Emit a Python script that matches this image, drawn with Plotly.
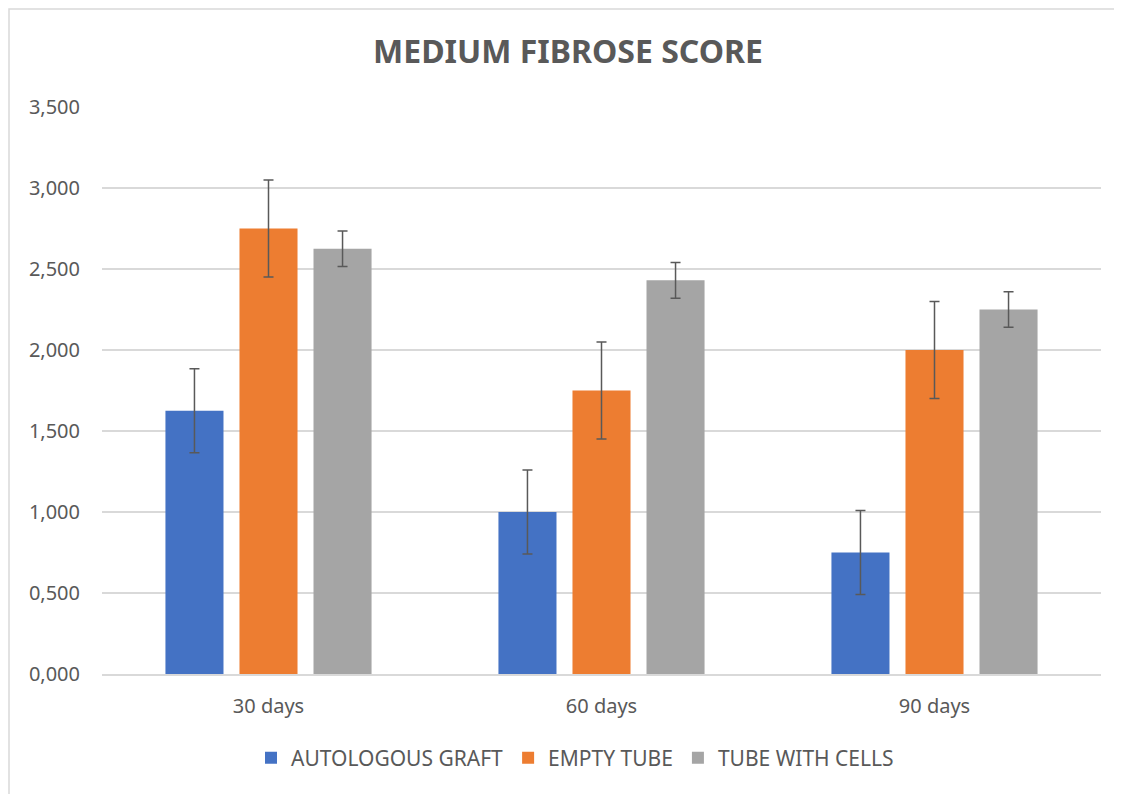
import plotly.graph_objects as go

categories = ["30 days", "60 days", "90 days"]
series_names = ["AUTOLOGOUS GRAFT", "EMPTY TUBE", "TUBE WITH CELLS"]
autologous = [1.625, 1.0, 0.75]
empty_tube = [2.75, 1.75, 2.0]
with_cells = [2.625, 2.43, 2.25]
autologous_err = [0.26, 0.26, 0.26]
empty_tube_err = [0.3, 0.3, 0.3]
with_cells_err = [0.11, 0.11, 0.11]
y_ticks = [0, 0.5, 1.0, 1.5, 2.0, 2.5, 3.0, 3.5]

colors = ["#4472C4", "#ED7D31", "#A5A5A5"]
values = [autologous, empty_tube, with_cells]
errors = [autologous_err, empty_tube_err, with_cells_err]

# page has an 8px body margin, so the figure is a bit smaller than the window
W, H = 1114, 786
L, R, T, B = 94, 21, 99, 120

fig = go.Figure()
for name, vals, errs, col in zip(series_names, values, errors, colors):
    fig.add_trace(go.Bar(
        x=categories, y=vals, name=name, marker_color=col,
        marker_line_width=0,
        error_y=dict(type="data", array=errs, visible=True,
                     color="#595959", thickness=1.5, width=5),
    ))

pw, ph = W - L - R, H - T - B
fig.add_shape(type="rect", xref="paper", yref="paper",
              x0=(1 - L) / pw, x1=(1109 - L) / pw,
              y0=(H - 800 - B) / ph, y1=(H - 1 - B) / ph,
              line=dict(color="#d9d9d9", width=1.5), fillcolor="rgba(0,0,0,0)",
              layer="below")

fig.update_layout(
    width=W, height=H,
    margin=dict(l=L, r=R, t=T, b=B),
    paper_bgcolor="white", plot_bgcolor="white",
    separators=",.",
    font=dict(family="Noto Sans", size=20, color="#595959"),
    title=dict(text="<b>MEDIUM FIBROSE SCORE</b>", x=560 / W, xanchor="center",
               y=1 - 44 / H, yanchor="middle",
               font=dict(size=32, color="#595959", family="Noto Sans")),
    barmode="group", bargap=0.333, bargroupgap=0.216,
    showlegend=True,
    legend=dict(orientation="h", x=(567 - L) / pw, xanchor="center",
                y=-(758 - 674) / ph, yanchor="middle",
                font=dict(size=21, color="#595959"),
                itemwidth=30, traceorder="normal"),
    yaxis=dict(range=[0, 3.5], tickvals=y_ticks, tickformat=".3f",
               showgrid=True, gridcolor="#d9d9d9", gridwidth=1.5,
               zeroline=False, showline=False, ticks="",
               ticklabelstandoff=21, tickfont=dict(size=20)),
    xaxis=dict(showline=True, linecolor="#d9d9d9",
               linewidth=1.5, ticks="", tickfont=dict(size=20),
               ticklabelstandoff=13),
)

fig.write_html("out.html")
